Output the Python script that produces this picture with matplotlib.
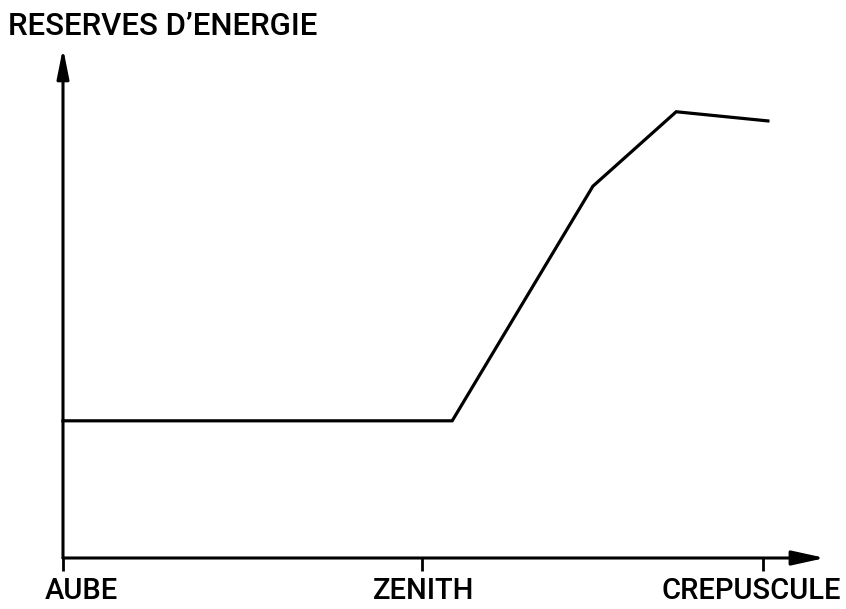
import numpy as np
import matplotlib
matplotlib.use('Agg')
import matplotlib.pyplot as plt
import matplotlib.transforms as mtransforms

# time of day as a fraction of the day (dawn = 0, dusk = 1)
day_time = [0.0, 0.556, 0.757, 0.876, 1.007]
reserves = [0.269, 0.269, 0.729, 0.875, 0.857]

tick_pos = [0.0, 0.513, 1.0]
tick_labels = ['AUBE', 'ZENITH', 'CREPUSCULE']
ylabel = 'RESERVES D\u2019ENERGIE'

plt.rcParams['font.family'] = ['Roboto', 'DejaVu Sans']

fig = plt.figure(figsize=(8.46, 6.09), dpi=100)
W, H = 846, 609
left, bottom, right, top = 63, 558, 825, 48
ax = fig.add_axes([left / W, (H - bottom) / H, (right - left) / W, (bottom - top) / H])

ax.set_xlim(0, (right - left) / 700)
ax.set_ylim(0, 1)

ax.plot(day_time, reserves, color='black', lw=2.3, solid_joinstyle='miter', clip_on=False)

for s in ax.spines.values():
    s.set_visible(False)

# axes with arrows
arrow = dict(arrowstyle='-|>,head_length=1.0,head_width=0.22', color='black',
             lw=2.2, mutation_scale=20, shrinkA=0, shrinkB=0)
ax.annotate('', xy=(1, 0), xytext=(0, 0), xycoords='axes fraction',
            arrowprops=arrow, annotation_clip=False)
ax.annotate('', xy=(0, 1), xytext=(0, 0), xycoords='axes fraction',
            arrowprops=dict(arrow, arrowstyle='-|>,head_length=0.9,head_width=0.18'),
            annotation_clip=False)

ax.set_xticks(tick_pos)
ax.set_xticklabels(tick_labels, fontsize=21, fontweight='medium')
ax.tick_params(axis='x', direction='out', length=9, width=2, pad=5)
ax.set_yticks([])

# nudge labels to sit as in the drawing
shifts = [18, 1, -12]
for lab, dx in zip(ax.get_xticklabels(), shifts):
    lab.set_transform(lab.get_transform() + mtransforms.ScaledTranslation(dx / 100, 0, fig.dpi_scale_trans))

fig.text(8 / W, (H - 35) / H, ylabel, fontsize=22.5, fontweight='medium', va='baseline', ha='left')

fig.savefig('out.png', dpi=100, facecolor='white')
